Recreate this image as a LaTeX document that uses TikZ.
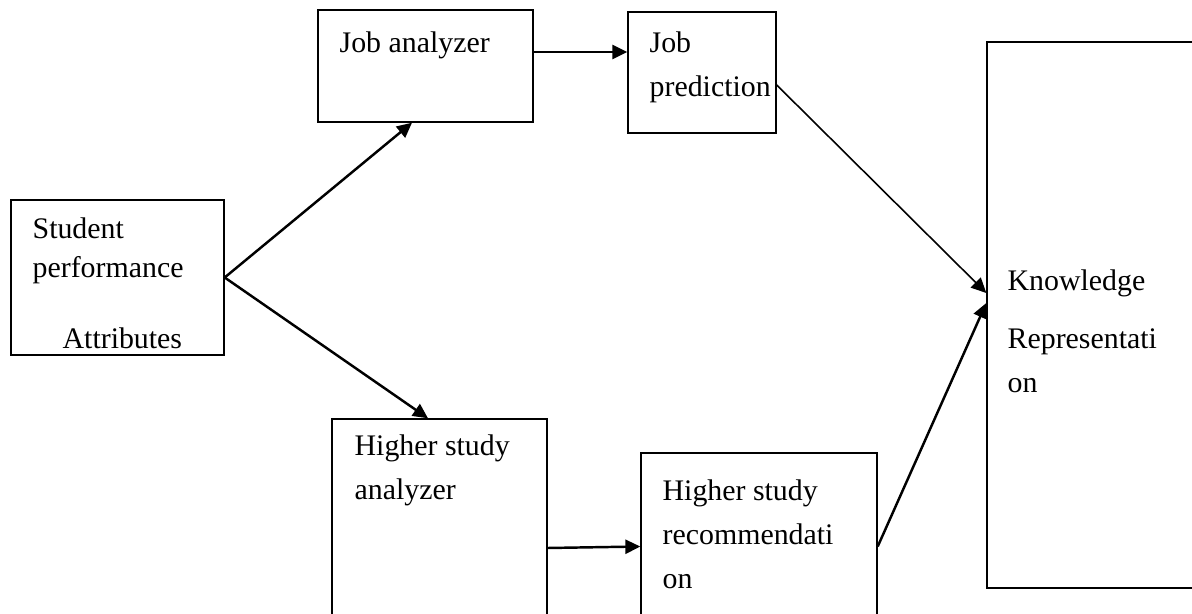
\documentclass[tikz,border=0pt]{standalone}
\usepackage{fontspec}
\setmainfont{Liberation Serif}
\usetikzlibrary{positioning}
\usetikzlibrary{fit}
\usetikzlibrary{arrows.meta}
\tikzset{
  blk/.style={draw,line width=0.8pt,inner sep=0pt},
  txt/.style={anchor=north west,align=left,inner sep=0pt,font=\fontsize{17}{25}\selectfont},
}

\begin{document}
\begin{tikzpicture}[x=0.02cm,y=-0.02cm,arr/.style={-{Triangle[length=8.5pt,width=8pt]},line width=1.4pt}]

        \useasboundingbox (0,0) rectangle (1192,614);
        \clip (0,0) rectangle (1192,614);

        \node[blk,fit={(11,200) (224,355)}] (stu) {};
        \node[blk,fit={(318,10) (533,122)}] (ja) {};
        \node[blk,fit={(628,12) (776,133)}] (jp) {};
        \node[blk,fit={(332,419) (547,640)}] (hsa) {};
        \node[blk,fit={(641,453) (877,640)}] (hsr) {};
        \node[blk,fit={(987,42) (1230,588)}] (kr) {};

        \node[txt,font=\fontsize{17}{22.5}\selectfont,below right=0.36cm and 0.44cm of stu.north west] (stutxt) {Student\\performance\\[0.62cm]\hspace*{0.6cm}Attributes};
        \node[txt,below right=0.44cm and 0.44cm of ja.north west] (jatxt) {Job analyzer};
        \node[txt,below right=0.4cm and 0.44cm of jp.north west] (jptxt) {Job\\prediction};
        \node[txt,below right=0.32cm and 0.46cm of hsa.north west] (hsatxt) {Higher study\\analyzer};
        \node[txt,below right=0.54cm and 0.44cm of hsr.north west] (hsrtxt) {Higher study\\recommendati\\on};
        \node[txt,below right=4.56cm and 0.42cm of kr.north west] (krtxt) {Knowledge\\[0.28cm]Representati\\on};

        \draw[arr] (stu.east) -- ([xshift=-0.27cm]ja.south);
        \draw[arr] (stu.east) -- ([xshift=-0.23cm]hsa.north);
        \draw[arr] ([yshift=0.28cm]ja.east) -- ([yshift=0.28cm]ja.east -| jp.west);
        \draw[arr,line width=0.9pt] ([yshift=-0.25cm]jp.east) -- ([yshift=0.44cm]kr.west);
        \draw[arr] ([yshift=-0.37cm]hsa.east) -- (hsr.west);
        \draw[arr] (hsr.east) -- ([yshift=0.24cm]kr.west);

\end{tikzpicture}
\end{document}
